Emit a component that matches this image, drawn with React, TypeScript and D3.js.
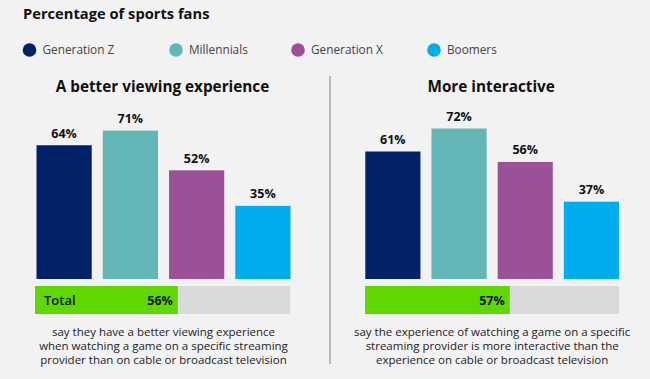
import React, { useEffect, useRef } from "react";
import * as d3 from "d3";

const groups = ["Generation Z", "Millennials", "Generation X", "Boomers"];
const groupColors = ["#012169", "#62b6b5", "#9b5198", "#00acec"];
const panelTitles = ["A better viewing experience", "More interactive"];
const betterViewing = [64, 71, 52, 35];
const moreInteractive = [61, 72, 56, 37];
const totals = [56, 57];
const totalLabels = ["Total", ""];
const captions = [
  [
    "say they have a better viewing experience",
    "when watching a game on a specific streaming",
    "provider than on cable or broadcast television",
  ],
  [
    "say the experience of watching a game on a specific",
    "streaming provider is more interactive than the",
    "experience on cable or broadcast television",
  ],
];

const FONT = "'Open Sans', 'Noto Sans', sans-serif";

export default function App() {
  const ref = useRef<SVGSVGElement>(null);

  useEffect(() => {
    const svg = d3.select(ref.current);
    svg.selectAll("*").remove();

    svg.append("rect").attr("width", 650).attr("height", 379).attr("fill", "#f2f2f2");

    svg
      .append("text")
      .attr("x", 23)
      .attr("y", 19)
      .attr("font-family", FONT)
      .attr("font-weight", 700)
      .attr("font-size", 14.7)
      .attr("fill", "#111")
      .text("Percentage of sports fans");

    // legend
    const legendX = d3.scaleOrdinal<string, number>().domain(groups).range([29.5, 176, 298, 434]);
    const leg = svg
      .append("g")
      .selectAll("g")
      .data(groups)
      .join("g")
      .attr("transform", (d) => `translate(${legendX(d)},50)`);
    leg.append("circle").attr("r", 6.8).attr("fill", (d, i) => groupColors[i]);
    leg
      .append("text")
      .attr("x", 13)
      .attr("y", 4.3)
      .attr("font-family", FONT)
      .attr("font-size", 11.8)
      .attr("fill", "#444")
      .text((d) => d);

    // divider
    svg
      .append("line")
      .attr("x1", 330)
      .attr("x2", 330)
      .attr("y1", 76)
      .attr("y2", 364)
      .attr("stroke", "#9a9a9a")
      .attr("stroke-width", 1.3);

    const y = d3.scaleLinear().domain([0, 100]).range([279, 70]);
    const panels = [
      { values: betterViewing, x0: 36.5, x1: 290.5, tx0: 35, tx1: 290 },
      { values: moreInteractive, x0: 365.3, x1: 619, tx0: 365, tx1: 619 },
    ];

    panels.forEach((p, pi) => {
      const g = svg.append("g");
      const x = d3.scaleBand<string>().domain(groups).range([p.x0, p.x1]).paddingInner(0.167);
      const cx = (p.x0 + p.x1) / 2;

      g.append("text")
        .attr("x", cx - 1)
        .attr("y", 91.5)
        .attr("text-anchor", "middle")
        .attr("font-family", FONT)
        .attr("font-weight", 700)
        .attr("font-size", 15.3)
        .attr("fill", "#111")
        .text(panelTitles[pi]);

      g.selectAll("rect.bar")
        .data(p.values)
        .join("rect")
        .attr("class", "bar")
        .attr("x", (d, i) => x(groups[i])!)
        .attr("width", x.bandwidth())
        .attr("y", (d) => y(d))
        .attr("height", (d) => y(0) - y(d))
        .attr("fill", (d, i) => groupColors[i]);

      g.selectAll("text.val")
        .data(p.values)
        .join("text")
        .attr("class", "val")
        .attr("x", (d, i) => x(groups[i])! + x.bandwidth() / 2)
        .attr("y", (d) => y(d) - 7.5)
        .attr("text-anchor", "middle")
        .attr("font-family", FONT)
        .attr("font-weight", 700)
        .attr("font-size", 12.5)
        .attr("fill", "#111")
        .text((d) => `${d}%`);

      // total bar
      const tx = d3.scaleLinear().domain([0, 100]).range([p.tx0, p.tx1]);
      g.append("rect")
        .attr("x", tx(0))
        .attr("y", 286)
        .attr("width", tx(100) - tx(0))
        .attr("height", 28)
        .attr("fill", "#d9d9d9");
      g.append("rect")
        .attr("x", tx(0))
        .attr("y", 286)
        .attr("width", tx(totals[pi]) - tx(0))
        .attr("height", 28)
        .attr("fill", "#5fd800");
      if (totalLabels[pi]) {
        g.append("text")
          .attr("x", tx(0) + 9)
          .attr("y", 305)
          .attr("font-family", FONT)
          .attr("font-weight", 600)
          .attr("font-size", 13)
          .attr("fill", "#111")
          .text(totalLabels[pi]);
      }
      g.append("text")
        .attr("x", tx(totals[pi]) - 5)
        .attr("y", 305)
        .attr("text-anchor", "end")
        .attr("font-family", FONT)
        .attr("font-weight", 700)
        .attr("font-size", 12.5)
        .attr("fill", "#111")
        .text(`${totals[pi]}%`);

      g.selectAll("text.cap")
        .data(captions[pi])
        .join("text")
        .attr("class", "cap")
        .attr("x", cx)
        .attr("y", (d, i) => 336 + i * 13.8)
        .attr("text-anchor", "middle")
        .attr("font-family", FONT)
        .attr("font-size", 11.5)
        .attr("fill", "#222")
        .text((d) => d);
    });
  }, []);

  return (
    <svg
      ref={ref}
      width={650}
      height={379}
      style={{ position: "absolute", left: 0, top: 0, display: "block" }}
    />
  );
}
